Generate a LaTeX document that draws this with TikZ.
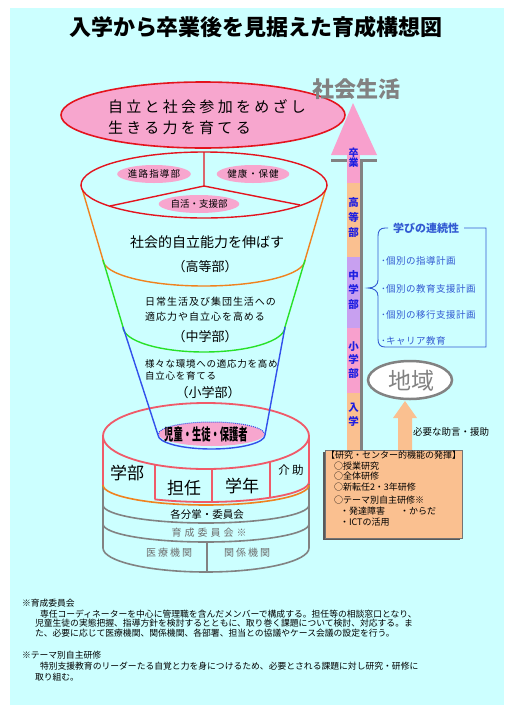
\documentclass[tikz,border=0pt]{standalone}
\usepackage{fontspec}
\setmainfont{Noto Sans CJK JP}
\usetikzlibrary{shapes.geometric}
\newcommand\myfs[1]{\fontsize{#1}{#1}\selectfont}
\newcommand\myls[1]{\addfontfeature{LetterSpace=#1}}
\definecolor{bgc}{RGB}{204,255,255}
\definecolor{pinkf}{RGB}{247,166,206}
\definecolor{redl}{RGB}{228,20,30}
\definecolor{cylred}{RGB}{240,90,105}
\definecolor{orl}{RGB}{240,130,30}
\definecolor{grl}{RGB}{40,225,40}
\definecolor{bll}{RGB}{50,80,235}
\definecolor{peach}{RGB}{250,192,144}
\definecolor{lav}{RGB}{200,160,240}
\definecolor{shpink}{RGB}{248,160,205}
\definecolor{txtblue}{RGB}{30,30,225}
\definecolor{boxblue}{RGB}{50,90,210}
\definecolor{grayl}{RGB}{130,130,130}
\definecolor{graytxt}{RGB}{110,110,110}
\begin{document}
\begin{tikzpicture}[x=1pt,y=-1pt,
  every node/.style={inner sep=0pt,outer sep=0pt},
  lw/.style={line width=1.4pt},
  cyl/.style={cylred,line width=1.8pt},
  cylg/.style={grayl,line width=1.6pt},
  pinklabel/.style={ellipse,fill=pinkf,minimum width=#1,minimum height=18pt},
  vtxt/.style={align=center,text=txtblue},
  itm/.style={anchor=west,text=boxblue,font=\myfs{9.5}\myls{5}},
  boxt/.style={anchor=west,font=\myfs{9}},
  note/.style={anchor=west,font=\myfs{8.8}}]
\useasboundingbox (0,0) rectangle (504,705);
\fill[white] (0,0) rectangle (504,705);
\fill[bgc] (10,8) rectangle (504,705);

% title
\node[font=\bfseries\myfs{22}] (title) at (256,27) {入学から卒業後を見据えた育成構想図};

% ---------- cylinder (bottom) ----------
\draw[cyl] (206,436) ellipse [x radius=103, y radius=33];
\draw[cyl] (103,436) -- (103,486);
\draw[cyl] (309,436) -- (309,484);
\draw[cyl] (309,482) arc[start angle=0,end angle=120,x radius=103,y radius=20];
\draw[cyl] (155,465) -- (155,499);
\draw[cyl] (212,469) -- (212,502);
\draw[cyl] (270,462) -- (270,498);
\draw[cylg] (103,486) -- (103,548);
\draw[cylg] (309,484) -- (309,548);
\draw[orl,line width=1.6pt] (103,485) arc[start angle=180,end angle=0,x radius=103,y radius=20];
\draw[cylg] (103,505) arc[start angle=180,end angle=0,x radius=103,y radius=18];
\draw[cylg] (103,524) arc[start angle=180,end angle=0,x radius=103,y radius=18];
\draw[cylg] (103,548) arc[start angle=180,end angle=0,x radius=103,y radius=24];
\draw[cylg] (207,542) -- (207,572);

\node[font=\myfs{17}] (gakubu) at (127,473) {学部};
\node[font=\myfs{17}] (tannin) at (184,488) {担任};
\node[font=\myfs{17}] (gakunen) at (242,486) {学年};
\node[font=\myfs{11.5}\myls{20}] (kaijo) at (291,470) {介助};
\node[font=\myfs{10.5}] (bunsho) at (207,514) {各分掌・委員会};
\node[font=\myfs{10}\myls{30},text=graytxt] (iinkai) at (209,533) {育成委員会※};
\node[font=\myfs{10}\myls{20},text=graytxt] (iryo) at (169,553) {医療機関};
\node[font=\myfs{10}\myls{20},text=graytxt] (kankei) at (247,553) {関係機関};

% ---------- funnel ----------
\draw[orl,lw] (81,185) -- (103,260) arc[start angle=180,end angle=0,x radius=101,y radius=26] -- (327,185);
\draw[grl,lw] (103,260) -- (123,327) arc[start angle=180,end angle=0,x radius=81,y radius=25] -- (305,260);
\fill[pinkf] (211.5,434) ellipse [x radius=53, y radius=12];
\draw[bll,densely dotted,line width=1pt] (158.5,434) arc[start angle=180,end angle=360,x radius=53,y radius=12];
\draw[bll,lw] (123,327) -- (158,435) arc[start angle=180,end angle=0,x radius=53.5,y radius=14] -- (285,327);
\node[font=\bfseries\myfs{16},xscale=0.58] (jido) at (206,434) {児童・生徒・保護者};

\node[font=\myfs{14}] (shakaiteki) at (207,242) {社会的自立能力を伸ばす};
\node[font=\myfs{13}] (koto) at (205,267) {（高等部）};
\node[anchor=west,font=\myfs{10}\myls{10}] (nichijo1) at (145,302) {日常生活及び集団生活への};
\node[anchor=west,font=\myfs{10}\myls{10}] (nichijo2) at (145,317) {適応力や自立心を高める};
\node[font=\myfs{13}] (chu) at (205,337) {（中学部）};
\node[anchor=west,font=\myfs{9.5}\myls{8}] (samazama1) at (145,364) {様々な環境への適応力を高め};
\node[anchor=west,font=\myfs{9.5}\myls{8}] (samazama2) at (145,376) {自立心を育てる};
\node[font=\myfs{13}] (sho) at (208,393) {（小学部）};

% top of funnel
\draw[redl,lw,fill=bgc] (204,185) ellipse [x radius=123, y radius=33];
\draw[redl,lw] (204,152) -- (204,186) -- (110,206);
\draw[redl,lw] (204,186) -- (300,205);
\node[pinklabel=68pt,font=\myfs{9.5}\myls{12}] (shinro) at (154,174) {進路指導部};
\node[pinklabel=60pt,font=\myfs{9.5}\myls{10}] (kenko) at (253,174) {健康・保健};
\node[pinklabel=58pt,font=\myfs{9.5}] (jikatsu) at (199,204) {自活・支援部};

% top ellipse
\draw[redl,line width=1.6pt,fill=pinkf] (203,115) ellipse [x radius=142, y radius=33];
\node[anchor=west,font=\myfs{15}\myls{22}] (goal1) at (108,107) {自立と社会参加をめざし};
\node[anchor=west,font=\myfs{15}\myls{22}] (goal2) at (108,128) {生きる力を育てる};

% ---------- right side arrow ----------
\node[font=\bfseries\myfs{22},text=grayl] (shakai) at (356,89) {社会生活};
\fill[shpink] (353,103) -- (377,155) -- (331,155) -- cycle;
\draw[grayl,line width=3pt] (331,160) -- (377,160);
\draw[grayl,line width=3pt] (361.5,160) -- (361.5,451);
\fill[shpink] (347,154) rectangle (360,183);
\fill[peach] (347,183) rectangle (360,257);
\fill[lav] (347,257) rectangle (360,328);
\fill[shpink] (347,328) rectangle (360,393);
\fill[peach] (347,393) rectangle (360,450);
\node[vtxt,font=\bfseries\fontsize{10}{10.5}\selectfont] (sotsu) at (353.5,157.5) {卒\\業};
\node[vtxt,font=\bfseries\fontsize{10.5}{15}\selectfont] (kotobu) at (353.5,217) {高\\等\\部};
\node[vtxt,font=\bfseries\fontsize{10.5}{14.5}\selectfont] (chubu) at (353.5,290) {中\\学\\部};
\node[vtxt,font=\bfseries\fontsize{10.5}{13.5}\selectfont] (shobu) at (353.5,360) {小\\学\\部};
\node[vtxt,font=\bfseries\fontsize{10.5}{14}\selectfont] (nyugaku) at (353.5,415) {入\\学};

% learning continuity bracket
\draw[boxblue,line width=0.9pt] (388,228) -- (385,228) .. controls (380,228) and (378,231) .. (378,236) -- (378,280) .. controls (378,285) and (374,288) .. (368,288) .. controls (374,288) and (378,291) .. (378,296) -- (378,339) .. controls (378,344) and (380,347) .. (385,347) -- (486,347) -- (486,228) -- (464,228);
\node[font=\bfseries\myfs{11},text=boxblue] (manabi) at (426,228) {学びの連続性};
\node[itm] (i1) at (381,261) {･個別の指導計画};
\node[itm] (i2) at (381,289) {･個別の教育支援計画};
\node[itm] (i3) at (381,315) {･個別の移行支援計画};
\node[itm] (i4) at (381,341) {･キャリア教育};

% region
\draw[grayl,line width=2.5pt,fill=white] (410,380) ellipse [x radius=42, y radius=19];
\node[font=\myfs{23},text=grayl] (chiiki) at (411,381) {地域};
\fill[peach] (398,451) -- (398,418) -- (393,418) -- (405,401) -- (417,418) -- (412,418) -- (412,451) -- cycle;
\node[anchor=west,font=\myfs{9.5}] (hitsuyo) at (413,432) {必要な助言・援助};

% center box
\fill[black!65] (323,452) rectangle (460,540);
\draw[fill=peach,draw=black!55,line width=0.6pt] (325,450) rectangle (462,538);
\node[boxt] (b0) at (326,455) {【研究・センター的機能の発揮】};
\node[boxt] (b1) at (334,466) {○授業研究};
\node[boxt] (b2) at (334,476) {○全体研修};
\node[boxt] (b3) at (334,487) {○新転任2・3年研修};
\node[boxt] (b4) at (334,500) {○テーマ別自主研修※};
\node[boxt] (b5) at (340,511) {・発達障害};
\node[boxt] (b6) at (400,511) {・からだ};
\node[boxt] (b7) at (340,522) {・ICTの活用};

% notes
\node[note] (n1) at (22,603) {※育成委員会};
\node[note] (n2) at (40,614) {専任コーディネーターを中心に管理職を含んだメンバーで構成する。担任等の相談窓口となり、};
\node[note] (n3) at (35,623.5) {児童生徒の実態把握、指導方針を検討するとともに、取り巻く課題について検討、対応する。ま};
\node[note] (n4) at (35,633) {た、必要に応じて医療機関、関係機関、各部署、担当との協議やケース会議の設定を行う。};
\node[note] (n5) at (22,655) {※テーマ別自主研修};
\node[note] (n6) at (40,666) {特別支援教育のリーダーたる自覚と力を身につけるため、必要とされる課題に対し研究・研修に};
\node[note] (n7) at (35,677) {取り組む。};
\end{tikzpicture}
\end{document}
